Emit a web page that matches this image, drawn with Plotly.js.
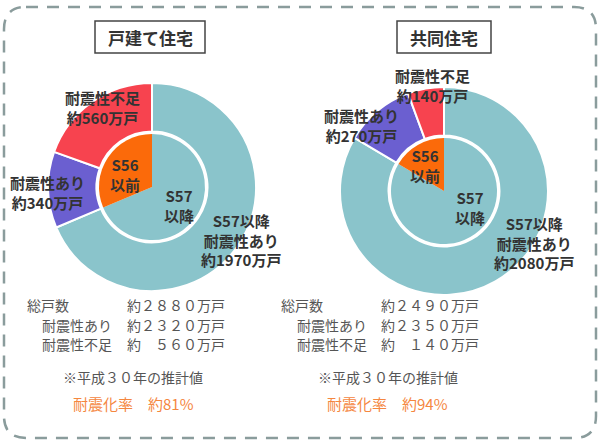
<!DOCTYPE html>
<html>
<head>
<meta charset="utf-8">
<script src="https://cdn.plot.ly/plotly-3.0.1.min.js"></script>
<style>html,body{margin:0;padding:0;background:#fff;}#chart{width:600px;height:445px;}</style>
</head>
<body>
<div id="chart"></div>
<script>
// ---- data ----
const houseTypes = ['戸建て住宅', '共同住宅'];
const outerLabels = ['S57以降 耐震性あり', 'S56以前 耐震性あり', '耐震性不足'];
const innerLabels = ['S57以降', 'S56以前'];
const detachedOuter = [1970, 340, 560];
const collectiveOuter = [2080, 270, 140];
const totals = [2880, 2490];
const resistantTotals = [2320, 2350];
const insufficientTotals = [560, 140];
const seismicRates = [81, 94];
const surveyNote = '※平成３０年の推計値';

// ---- helpers ----
const W = 600, H = 445;
const px = x => x / W;
const py = y => 1 - y / H;
const FW = n => String(n).replace(/[0-9]/g, d => String.fromCharCode(d.charCodeAt(0) + 0xFEE0));
const jp = '"Noto Sans CJK JP", "Noto Sans", sans-serif';

const colOuter = ['#8ac4cb', '#6b5fd0', '#f7434f'];
const colInner = ['#8ac4cb', '#fb6a0a'];

const centers = [{x: 152, y: 187}, {x: 444, y: 191}];
const Rout = 104, Rin = 53, holeR = 55.5;

function dom(c, r) {
  return {x: [px(c.x - r), px(c.x + r)], y: [py(c.y + r), py(c.y - r)]};
}

const outerData = [detachedOuter, collectiveOuter];
const traces = [];
outerData.forEach((vals, i) => {
  traces.push({
    type: 'pie', values: vals, labels: outerLabels, sort: false, direction: 'clockwise', rotation: 0,
    hole: holeR / Rout, domain: dom(centers[i], Rout), textinfo: 'none', hoverinfo: 'label+value',
    marker: {colors: colOuter, line: {color: '#ffffff', width: 2}}, showlegend: false
  });
  const innerVals = [vals[0], vals[1] + vals[2]];
  traces.push({
    type: 'pie', values: innerVals, labels: innerLabels, sort: false, direction: 'clockwise', rotation: 0,
    domain: dom(centers[i], Rin), textinfo: 'none', hoverinfo: 'label+value',
    marker: {colors: colInner, line: {width: 0}}, showlegend: false
  });
});

const ann = [];
function label(text, x, y, opts) {
  ann.push(Object.assign({
    text: text, x: px(x), y: py(y), xref: 'paper', yref: 'paper', showarrow: false,
    xanchor: 'center', yanchor: 'middle', align: 'center',
    font: {family: jp, size: 15, color: '#333333', weight: 'bold'}
  }, opts || {}));
}

// pie labels
const pieLabelPos = [
  {ins: [102, 108], res: [47, 192], s56: [125, 174], s57: [179, 205], main: [241, 240]},
  {ins: [432, 85], res: [361, 125], s56: [425, 165], s57: [470, 207], main: [534, 243]}
];
outerData.forEach((vals, i) => {
  const p = pieLabelPos[i];
  label('耐震性不足<br>約' + vals[2] + '万戸', p.ins[0], p.ins[1]);
  label('耐震性あり<br>約' + vals[1] + '万戸', p.res[0], p.res[1]);
  label('S56<br>以前', p.s56[0], p.s56[1]);
  label('S57<br>以降', p.s57[0], p.s57[1]);
  label('S57以降<br>耐震性あり<br>約' + vals[0] + '万戸', p.main[0], p.main[1]);
});

// titles
const titleBoxes = [[95, 205], [397, 491]];
const shapes = [];
houseTypes.forEach((t, i) => {
  const b = titleBoxes[i];
  shapes.push({type: 'rect', xref: 'paper', yref: 'paper', x0: px(b[0]), x1: px(b[1]), y0: py(53), y1: py(21),
    line: {color: '#444444', width: 1.5}, fillcolor: '#ffffff', layer: 'below'});
  label(t, (b[0] + b[1]) / 2, 37, {font: {family: jp, size: 17, color: '#333333', weight: 'bold'}});
});

// stats
const statX = [{lab0: 25, lab1: 40, val: 125, mid: 133}, {lab0: 279, lab1: 295, val: 379, mid: 388}];
const statFont = {family: jp, size: 14, color: '#555555'};
const pad = (n, len) => { let s = FW(n); while (s.length < len) s = '\u3000' + s; return s; };
houseTypes.forEach((t, i) => {
  const s = statX[i];
  const rows = [
    ['総戸数', s.lab0, totals[i]],
    ['耐震性あり', s.lab1, resistantTotals[i]],
    ['耐震性不足', s.lab1, insufficientTotals[i]]
  ];
  const len = String(totals[i]).length;
  rows.forEach((r, k) => {
    const y = 305 + k * 19.5;
    label(r[0], r[1], y, {xanchor: 'left', font: statFont});
    label('約' + pad(r[2], len) + '万戸', s.val, y, {xanchor: 'left', font: statFont});
  });
  label(surveyNote, s.mid, 377, {font: {family: jp, size: 14, color: '#555555'}});
  label('耐震化率　約' + seismicRates[i] + '%', s.mid, 403, {font: {family: jp, size: 15, color: '#f5873f'}});
});

// dashed rounded border
(function () {
  const L = 4, R = 596, T = 7, B = 438, r = 22;
  const P = (x, y) => px(x).toFixed(5) + ',' + py(y).toFixed(5);
  const path = 'M' + P(L + r, T) + ' L' + P(R - r, T) + ' Q' + P(R, T) + ' ' + P(R, T + r) +
    ' L' + P(R, B - r) + ' Q' + P(R, B) + ' ' + P(R - r, B) +
    ' L' + P(L + r, B) + ' Q' + P(L, B) + ' ' + P(L, B - r) +
    ' L' + P(L, T + r) + ' Q' + P(L, T) + ' ' + P(L + r, T) + ' Z';
  shapes.push({type: 'path', xref: 'paper', yref: 'paper', path: path,
    line: {color: '#8a9c9c', width: 2.5, dash: '12px,9px'}, layer: 'below'});
})();

const layout = {
  width: W, height: H, margin: {l: 0, r: 0, t: 0, b: 0},
  paper_bgcolor: '#ffffff', plot_bgcolor: '#ffffff',
  showlegend: false, annotations: ann, shapes: shapes
};
Plotly.newPlot('chart', traces, layout, {displayModeBar: false, staticPlot: true});
</script>
</body>
</html>
